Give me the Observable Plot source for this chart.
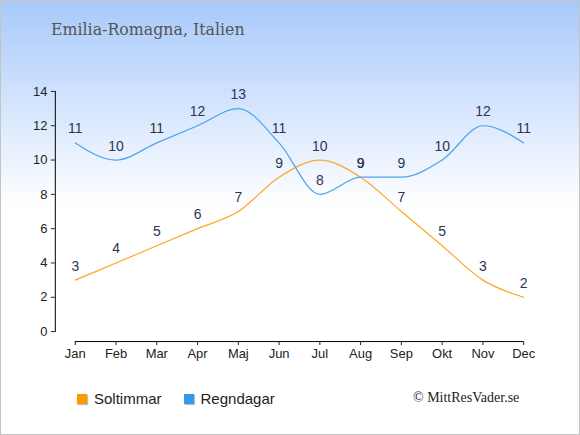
<!DOCTYPE html>
<html><head><meta charset="utf-8">
<script src="https://cdn.jsdelivr.net/npm/d3@7"></script>
<script src="https://cdn.jsdelivr.net/npm/@observablehq/plot@0.6"></script>
<style>
body{margin:0;background:#fff;}
#card{position:relative;width:578px;height:433px;border:1px solid #c4c4c4;background:linear-gradient(to bottom,#a8c9fb 0px,#ffffff 205px,#ffffff 100%);overflow:hidden;font-family:"Liberation Sans",Arial,sans-serif;}
#title{position:absolute;left:50px;top:19px;font-family:"DejaVu Serif",serif;font-size:15.8px;color:#555;white-space:nowrap;}
#chart{position:absolute;left:0;top:70px;}
#legend{position:absolute;left:76px;top:389px;font-size:15px;color:#222;display:flex;align-items:center;}
#legend .item{display:flex;align-items:center;margin-right:22px;}
#legend .sw{width:10px;height:10px;margin-right:7px;box-shadow:1px 1px 1px rgba(0,0,0,0.25);}
#copy{position:absolute;left:412px;top:389px;font-family:"Liberation Serif",serif;font-size:14px;color:#222;white-space:nowrap;}
</style>
</head><body>
<div id="card">
<div id="title">Emilia-Romagna, Italien</div>
<div id="chart"></div>
<div id="legend"></div>
<div id="copy">© MittResVader.se</div>
</div>
<script>
const months = ["Jan","Feb","Mar","Apr","Maj","Jun","Jul","Aug","Sep","Okt","Nov","Dec"];
const soltimmar = [3,4,5,6,7,9,10,9,7,5,3,2];
const regndagar = [11,10,11,12,13,11,8,9,9,10,12,11];
const seriesNames = ["Soltimmar","Regndagar"];
const seriesColors = ["#ffa526","#4ca3ea"];
const legendColors = ["#ff9900","#3399ea"];
const yTicks = [0,2,4,6,8,10,12,14];

const rows = [];
months.forEach((m,i)=>{
  rows.push({month:m, value:soltimmar[i], series:seriesNames[0]});
  rows.push({month:m, value:regndagar[i], series:seriesNames[1]});
});
const axisLine = [{a: months[0], b: months[months.length-1]}];

const plot = Plot.plot({
  width: 580,
  height: 300,
  marginLeft: 54,
  marginRight: 36,
  marginTop: 20,
  marginBottom: 39,
  style: {background:"transparent", fontFamily:"'Liberation Sans', Arial, sans-serif", fontSize:"13px", color:"#222"},
  x: {type:"point", domain: months, range:[74, 524], padding: 0, round: false},
  y: {domain:[0,14]},
  color: {domain: seriesNames, range: seriesColors},
  marks: [
    Plot.frame({anchor:"left", stroke:"#000"}),
    Plot.axisY({ticks: yTicks, tickSize:4, tickPadding:4, label:null, fill:"#222", fontSize:13}),
    Plot.ruleY(axisLine, {x1:"a", x2:"b", y: 0, dy: 10, stroke:"#000"}),
    Plot.axisX({tickSize:4, tickPadding:3, dy:10, label:null, fill:"#222", fontSize:13}),
    Plot.line(rows, {x:"month", y:"value", z:"series", stroke:"series", curve:"monotone-x", strokeWidth:1.2}),
    Plot.text(rows, {x:"month", y:"value", text:"value", dy:-14, fill:"#2b3552", fontSize:14})
  ]
});
document.getElementById("chart").appendChild(plot);

const legend = document.getElementById("legend");
seriesNames.forEach((n,i)=>{
  const it = document.createElement("div"); it.className="item";
  const sw = document.createElement("div"); sw.className="sw"; sw.style.background=legendColors[i];
  const tx = document.createElement("span"); tx.textContent=n;
  it.appendChild(sw); it.appendChild(tx); legend.appendChild(it);
});
</script>
</body></html>
